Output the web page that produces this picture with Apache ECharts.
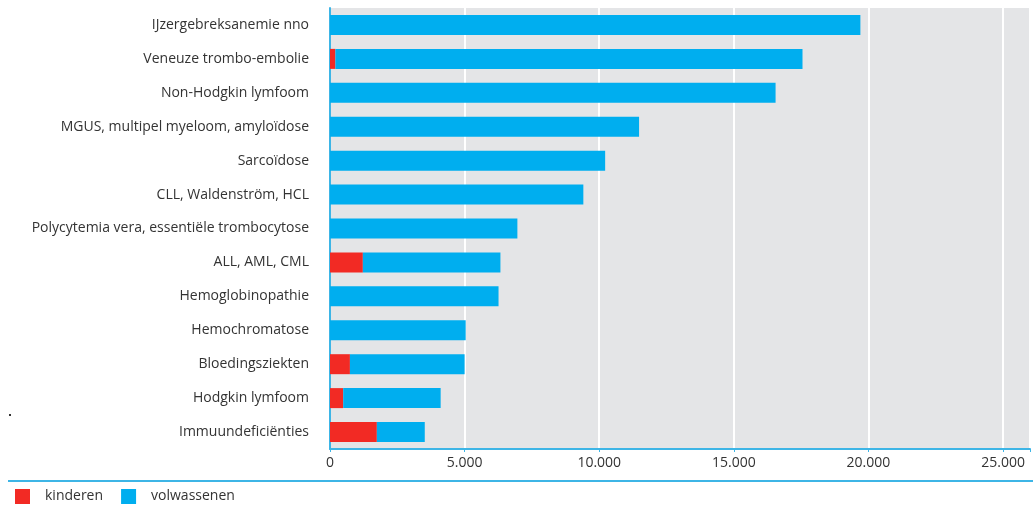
<!DOCTYPE html>
<html>
<head>
<meta charset="utf-8">
<script src="https://cdn.jsdelivr.net/npm/echarts@6/dist/echarts.min.js"></script>
<style>
  html, body { margin: 0; padding: 0; background: #fff; }
  #chart { width: 1033px; height: 509px; }
</style>
</head>
<body>
<div id="chart"></div>
<script>
  // diagnoses, top to bottom
  var categories = [
    'IJzergebreksanemie nno',
    'Veneuze trombo-embolie',
    'Non-Hodgkin lymfoom',
    'MGUS, multipel myeloom, amyloïdose',
    'Sarcoïdose',
    'CLL, Waldenström, HCL',
    'Polycytemia vera, essentiële trombocytose',
    'ALL, AML, CML',
    'Hemoglobinopathie',
    'Hemochromatose',
    'Bloedingsziekten',
    'Hodgkin lymfoom',
    'Immuundeficiënties'
  ];
  var kinderen = [0, 200, 0, 0, 0, 0, 0, 1220, 0, 0, 740, 490, 1740];
  var volwassenen = [19700, 17350, 16550, 11480, 10220, 9410, 6960, 5110, 6260, 5040, 4260, 3620, 1780];
  var xTicks = [0, 5000, 10000, 15000, 20000, 25000];

  var blue = '#00aeef';
  var red = '#f22a24';
  var lineBlue = '#3db5e6';
  var font = 'Open Sans';

  var chart = echarts.init(document.getElementById('chart'));
  chart.setOption({
    animation: false,
    textStyle: { fontFamily: font },
    grid: {
      left: 330, right: 0, top: 8, bottom: 60,
      show: true, backgroundColor: '#e4e5e7', borderWidth: 0
    },
    legend: {
      left: 10, top: 484,
      itemWidth: 15, itemHeight: 15, itemGap: 18,
      icon: 'rect',
      textStyle: { color: '#333', fontSize: 14, fontFamily: font, padding: [0, 0, 0, 10] },
      data: ['kinderen', 'volwassenen']
    },
    xAxis: {
      type: 'value',
      min: 0, max: 26000, interval: 5000,
      axisLine: { show: true, lineStyle: { color: lineBlue, width: 2 } },
      axisTick: { show: true, length: 3, lineStyle: { color: lineBlue } },
      splitLine: { show: true, lineStyle: { color: '#ffffff', width: 2 } },
      axisLabel: {
        color: '#333', fontSize: 14, margin: 7, showMaxLabel: true,
        formatter: function (v) {
          if (xTicks.indexOf(v) < 0) return '';
          return v.toLocaleString('nl-NL');
        }
      }
    },
    yAxis: {
      type: 'category',
      inverse: true,
      data: categories,
      axisLine: { show: true, lineStyle: { color: lineBlue, width: 2 } },
      axisTick: { show: false },
      axisLabel: { color: '#333', fontSize: 14, margin: 21 }
    },
    series: [
      {
        name: 'kinderen', type: 'bar', stack: 'totaal',
        barWidth: 20, itemStyle: { color: red },
        data: kinderen
      },
      {
        name: 'volwassenen', type: 'bar', stack: 'totaal',
        barWidth: 20, itemStyle: { color: blue },
        data: volwassenen
      }
    ],
    graphic: [
      {
        type: 'line', silent: true,
        shape: { x1: 8, y1: 481, x2: 1033, y2: 481 },
        style: { stroke: lineBlue, lineWidth: 2 }
      },
      {
        type: 'rect', silent: true,
        shape: { x: 9, y: 414, width: 2, height: 2 },
        style: { fill: '#333' }
      }
    ]
  });
</script>
</body>
</html>
